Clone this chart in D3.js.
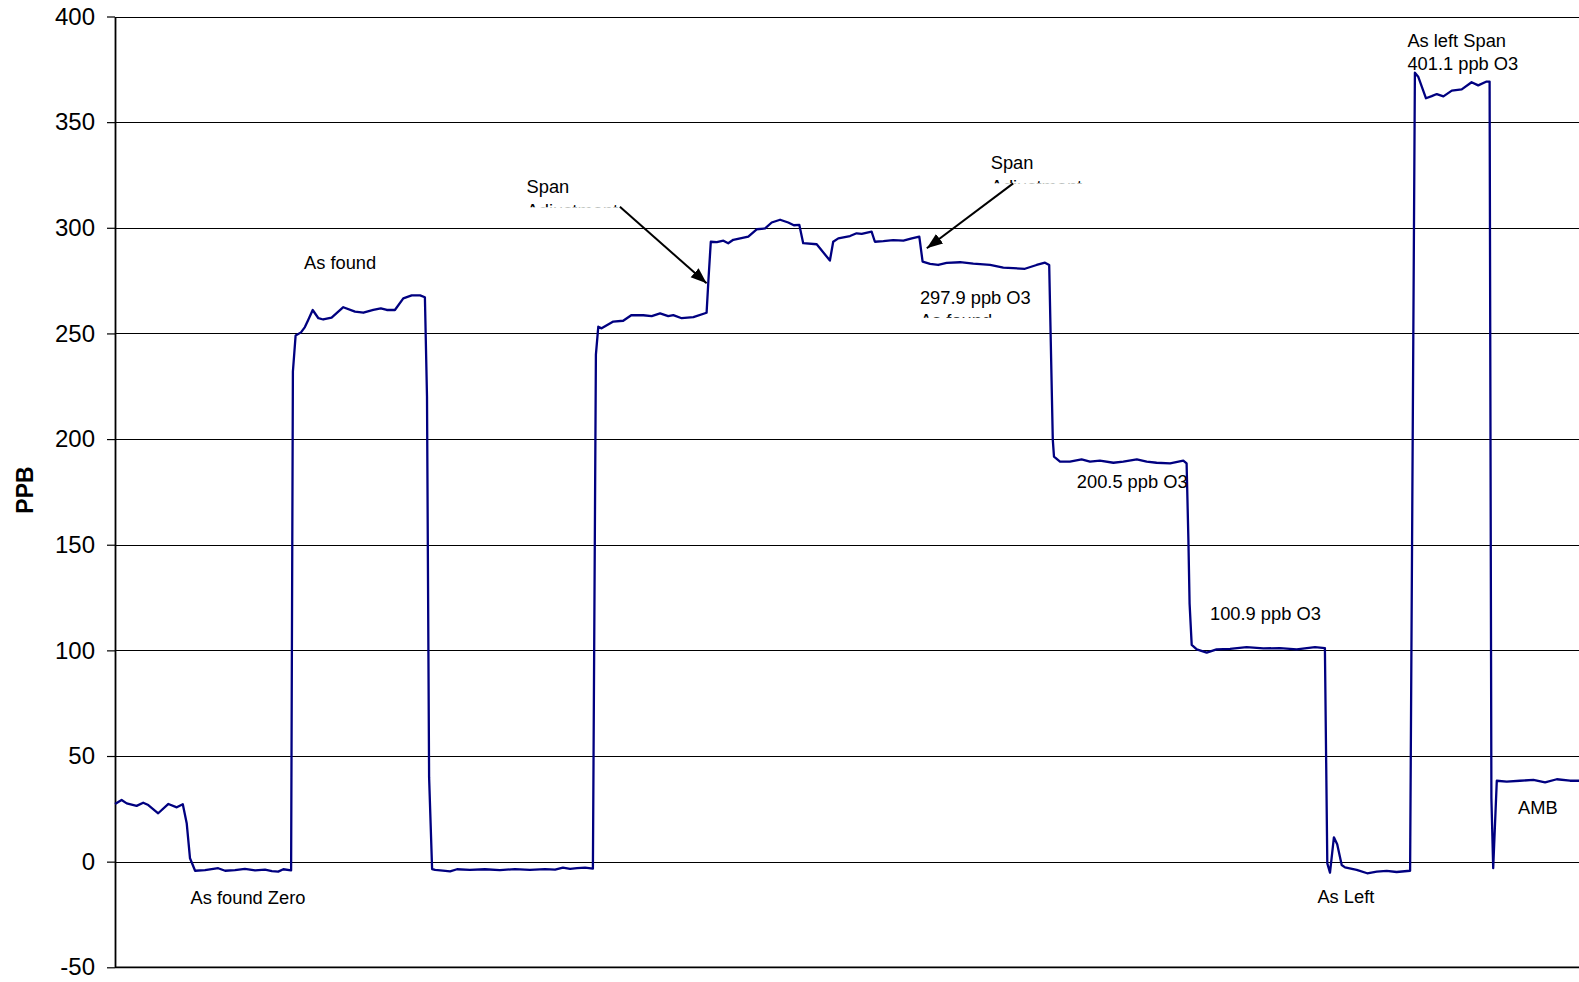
<!DOCTYPE html>
<html>
<head>
<meta charset="utf-8">
<script src="https://cdn.jsdelivr.net/npm/d3@7"></script>
<style>
  body { margin: 0; background: #fff; }
  svg { display: block; }
</style>
</head>
<body>
<div id="chart"></div>
<script>
// Time (minutes) and ozone reading (ppb)
var times = [0, 2.2, 3.9, 7.2, 9.4, 11.1, 14.4, 17.8, 20.6, 22.6, 23.9, 25, 26.7, 30, 34.4, 36.7, 40, 43.3, 46.7, 50, 52.3, 54.4, 56.1, 58.7,
    59.3, 60.2, 62, 63.3, 64.4, 65.9, 67.8, 69.4, 72.2, 76.1, 80, 82.8, 86.1, 88.6, 90.6, 93.3, 96.1, 98.9, 101.7, 103.3,
    104, 104.7, 105.7, 106.7, 109.3, 111.7, 114, 118.3, 123.3, 128.3, 133.3, 138.3, 143.3, 146.7, 149.3, 151.7, 154, 156.7, 159.3,
    160.3, 161.1, 162.2, 166.1, 169.4, 172.2, 176.1, 178.9, 181.7, 184.4, 186.1, 188.9, 192.8, 197.2,
    197.8, 198.6, 200.6, 202.8, 204.4, 206.1, 211.1, 213.9, 216.7, 218.9, 221.7, 224.4, 226.3, 228.1,
    229.4, 233.9, 238.3, 239.4, 241.1, 245, 247.2, 248.9, 252.2, 253.3, 256.1, 259.4, 262.8, 265.6, 268.1,
    269.2, 271.7, 274.4, 277.2, 281.7, 286.1, 291.7, 296.1, 299.4, 303.3, 307.2, 310, 311.4,
    312.6, 313, 315, 318.3, 322.2, 325, 328.3, 332.8, 336.1, 340.6, 343.9, 347.2, 351.7, 356.1, 357.2,
    357.8, 358.2, 358.9, 360.6, 363.9, 367.2, 371.7, 377.2, 382.8, 388.3, 393.9, 400, 403.3,
    404.1, 405, 406.3, 407.4, 408.9, 410, 413.9, 417.4, 420.6, 423.9, 427.2, 431.7,
    433.3, 434.4, 437, 438.9, 440.6, 442.8, 445.6, 448.9, 452.2, 454.4, 457.2, 458.2,
    458.8, 459.4, 460.6, 463.9, 468.3, 472.8, 476.7, 480.6, 485, 488.3];

var ppb = [27.3, 29.2, 27.6, 26.4, 27.9, 26.8, 22.9, 27.3, 25.7, 27.2, 18.2, 1.6, -4.3, -4.0, -3.1, -4.3, -4.0, -3.4, -4.1, -3.8, -4.5, -4.7, -3.6, -4.1,
    232, 249, 250.5, 253, 256.4, 261.1, 257.2, 256.6, 257.5, 262.4, 260.3, 259.8, 261.1, 261.9, 261.1, 261.1, 266.6, 268, 268, 267.1,
    220, 40, -3.5, -3.9, -4.2, -4.6, -3.6, -3.9, -3.6, -4.0, -3.5, -3.9, -3.5, -3.8, -2.8, -3.4, -3.1, -2.8, -3.3,
    240, 253.2, 252.4, 255.6, 256, 258.7, 258.6, 258.2, 259.5, 258.2, 258.7, 257.2, 257.7, 259.8,
    275, 293.4, 293.2, 293.9, 292.7, 294.3, 295.8, 299.3, 299.7, 302.5, 303.8, 302.5, 301.2, 301.4,
    292.7, 292.2, 284.5, 293.4, 295, 296.1, 297.4, 297.1, 298.2, 293.4, 293.7, 294.2, 293.9, 295, 295.8,
    284, 282.9, 282.4, 283.4, 283.7, 283, 282.4, 281.1, 280.9, 280.6, 282.4, 283.5, 282.4,
    199.6, 191.7, 189.3, 189.3, 190.4, 189.3, 189.8, 188.8, 189.3, 190.4, 189.3, 188.8, 188.5, 189.8, 188.5,
    152.2, 122, 102.6, 100.5, 98.9, 100.5, 100.7, 101.5, 100.9, 101.1, 100.5, 101.5, 101.1,
    -0.8, -5.2, 11.5, 8.2, -1.6, -2.7, -3.9, -5.5, -4.7, -4.4, -4.9, -4.3,
    373.4, 371.5, 361.3, 362.3, 363.3, 362.2, 364.9, 365.5, 368.9, 367.4, 369.2, 369.2,
    30, -3.1, 38.3, 37.9, 38.3, 38.7, 37.5, 39, 38.3, 38.3];

// Y axis ticks
var y_ticks = [-50, 0, 50, 100, 150, 200, 250, 300, 350, 400];

// Labels written on the chart (anchored in chart units)
var label_text  = [["As found"], ["As found Zero"], ["Span", "Adjustment"], ["Span", "Adjustment"], ["297.9 ppb O3", "As found"],
                   ["200.5 ppb O3"], ["100.9 ppb O3"], ["As left Span", "401.1 ppb O3"], ["As Left"], ["AMB"]];
var label_time  = [63, 25.2, 137.2, 291.9, 268.3, 320.6, 365, 430.8, 400.8, 467.7];
var label_ppb   = [280.5, -20, 316.3, 327.7, 264, 176.7, 114.4, 385.7, -19.7, 22.6];
var label_cut   = [false, false, true, true, true, false, false, false, false, false];   // second line hidden by the chart box

// Arrows: [start time, start ppb, end time, end ppb]
var arrows = [[168.3, 310, 197.2, 273.7], [299.4, 321, 270.6, 290.3]];

// Screen variables
var W = 1579, H = 982;
var margin = {top: 16.5, left: 115, bottom: 967.3};

var svg = d3.select("#chart")
            .append("svg")
            .attr("width", W)
            .attr("height", H)
            .style("font-family", "'Liberation Sans', Arial, sans-serif");

// Scales
var x = d3.scaleLinear().domain([0, 495]).range([margin.left, margin.left + 495 * 3]);
var y = d3.scaleLinear().domain([-50, 400]).range([margin.bottom, margin.top]);

// Grid
svg.append("g")
   .selectAll("line")
   .data(y_ticks.filter(d => d > -50))
   .enter().append("line")
   .attr("x1", margin.left)
   .attr("x2", W)
   .attr("y1", d => Math.round(y(d)) + 0.5)
   .attr("y2", d => Math.round(y(d)) + 0.5)
   .attr("stroke", "#000")
   .attr("stroke-width", 1);

// Bottom line of the plot area
svg.append("line")
   .attr("x1", margin.left)
   .attr("x2", W)
   .attr("y1", y(-50))
   .attr("y2", y(-50))
   .attr("stroke", "#000")
   .attr("stroke-width", 1.8);

// Y axis (plain hyphen for negatives)
var leftAxis = d3.axisLeft(y).tickValues(y_ticks).tickFormat(d => String(d)).tickSize(8).tickPadding(12).tickSizeOuter(0);
var gy = svg.append("g")
            .attr("transform", "translate(" + margin.left + ",0)")
            .call(leftAxis);
gy.select(".domain").attr("stroke", "#000").attr("stroke-width", 1.8);
gy.selectAll(".tick line").attr("stroke", "#000").attr("stroke-width", 1.2);
gy.selectAll(".tick text")
  .attr("font-family", "'Liberation Sans', Arial, sans-serif")
  .attr("font-size", 24)
  .attr("fill", "#000");

// Axis title
svg.append("text")
   .attr("transform", "translate(33,490) rotate(-90)")
   .attr("text-anchor", "middle")
   .attr("font-size", 23)
   .attr("font-weight", "bold")
   .text("PPB");

// Data line
var data = times.map((t, i) => ({t: t, v: ppb[i]}));
var line = d3.line().x(d => x(d.t)).y(d => y(d.v));

svg.append("path")
   .datum(data)
   .attr("d", line)
   .attr("fill", "none")
   .attr("stroke", "#000080")
   .attr("stroke-width", 2.3)
   .attr("stroke-linejoin", "round");

// Arrow heads
svg.append("defs")
   .append("marker")
   .attr("id", "head")
   .attr("markerUnits", "userSpaceOnUse")
   .attr("markerWidth", 18)
   .attr("markerHeight", 14)
   .attr("refX", 16)
   .attr("refY", 7)
   .attr("orient", "auto")
   .append("path")
   .attr("d", "M0,1 L16,7 L0,13 Z")
   .attr("fill", "#000");

svg.append("g")
   .selectAll("line")
   .data(arrows)
   .enter().append("line")
   .attr("x1", d => x(d[0]))
   .attr("y1", d => y(d[1]))
   .attr("x2", d => x(d[2]))
   .attr("y2", d => y(d[3]))
   .attr("stroke", "#000")
   .attr("stroke-width", 2)
   .attr("marker-end", "url(#head)");

// Labels
var defs = svg.select("defs");
label_text.forEach(function(lines, i) {
    var lx = x(label_time[i]), ly = y(label_ppb[i]);
    var g = svg.append("g");
    if (label_cut[i]) {
        defs.append("clipPath")
            .attr("id", "cut" + i)
            .append("rect")
            .attr("x", lx - 5)
            .attr("y", ly - 30)
            .attr("width", 200)
            .attr("height", 44);
        g.attr("clip-path", "url(#cut" + i + ")");
    }
    g.selectAll("text")
     .data(lines)
     .enter().append("text")
     .attr("x", lx)
     .attr("y", (d, j) => ly + j * 23.3)
     .attr("font-size", 18.3)
     .attr("fill", "#000")
     .text(d => d);
});
</script>
</body>
</html>
